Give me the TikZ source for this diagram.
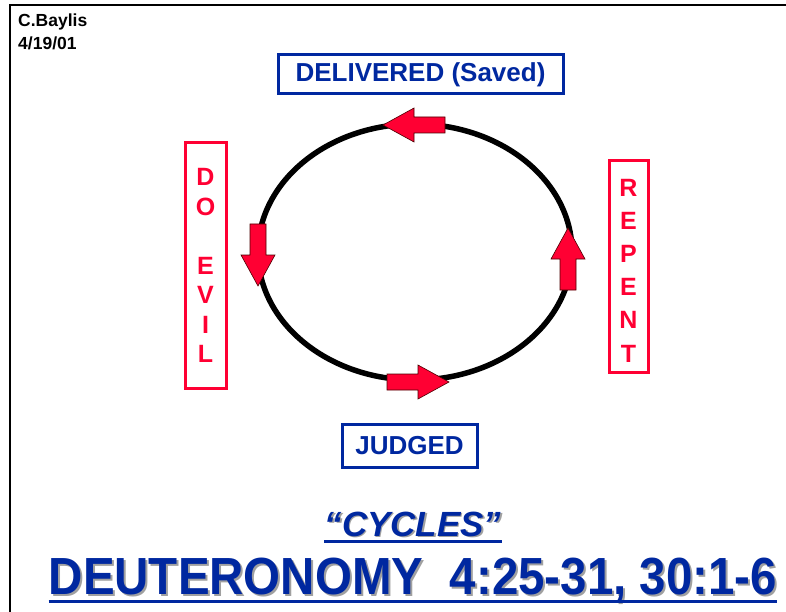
\documentclass[tikz,border=0pt]{standalone}
\usepackage{fontspec}
\usetikzlibrary{shapes.geometric}
\setmainfont{Liberation Sans}
\definecolor{tblue}{RGB}{0,40,160}
\definecolor{tred}{RGB}{255,0,51}
\definecolor{tshadow}{RGB}{160,160,160}
\tikzset{
  bluebox/.style={draw=tblue, line width=3pt, text=tblue, inner sep=0pt, font=\bfseries\fontsize{26}{30}\selectfont},
  redbox/.style={draw=tred, line width=3pt, text=tred, inner sep=0pt, align=center},
  ring/.style={draw=black, line width=5.5pt},
  arrowshape/.style={fill=tred, draw=black!70!red, line width=0.6pt, line join=miter},
  frameline/.style={draw=black, line width=2.5pt},
  pics/redarrow/.style={code={
    \path[arrowshape] (0,8) -- (31,8) -- (31,17) -- (62,0) -- (31,-17) -- (31,-8) -- (0,-8) -- cycle;
  }}
}
\begin{document}
\begin{tikzpicture}[x=1pt,y=-1pt]
\useasboundingbox (0,0) rectangle (786,612);
\fill[white] (0,0) rectangle (786,612);
% frame
\coordinate (fl) at (10,612);
\coordinate (ftl) at (10,5);
\coordinate (ftr) at (786,5);
\draw[frameline] (fl) -- (ftl) -- (ftr);
% author
\node[anchor=north west, align=left, font=\bfseries\fontsize{17.5}{23}\selectfont, inner sep=0pt] (author) at (18,14) {C.Baylis\\4/19/01};
% cycle
\node[ring, ellipse, minimum width=314pt, minimum height=256pt, inner sep=0pt] (cycle) at (415,252) {};
% arrows on the cycle
\pic[rotate=180] at (445,125) {redarrow};
\pic[rotate=-90] at (258,224) {redarrow};
\pic[rotate=90] at (568,290) {redarrow};
\pic at (387,382) {redarrow};
% labels
\node[bluebox, minimum width=285pt, minimum height=39pt] (delivered) at (420.5,74.5) {DELIVERED (Saved)};
\node[bluebox, minimum width=135pt, minimum height=43pt] (judged) at (409.5,445.5) {JUDGED};
\node[redbox, minimum width=41pt, minimum height=245pt, font=\bfseries\fontsize{25}{29.5}\selectfont] (doevil) at (205.5,265.5) {D\\O\\[29.5pt]E\\V\\I\\L};
\node[redbox, minimum width=39pt, minimum height=211pt,
  label={[text=tred, align=center, inner sep=0pt, yshift=-4pt, font=\bfseries\fontsize{25}{33.2}\selectfont]center:R\\E\\P\\E\\N\\T}] (repent) at (628.5,266.5) {};
% titles
\node[anchor=base, inner sep=0pt, text=tshadow, font=\bfseries\itshape\fontsize{35}{40}\selectfont] at (414.5,537.5) {“CYCLES”};
\node[anchor=base, inner sep=0pt, text=tblue, font=\bfseries\itshape\fontsize{35}{40}\selectfont] (cycles) at (413,536) {“CYCLES”};
\draw[tblue, line width=3pt] (cycles.base west |- 0,541.5) -- (cycles.base east |- 0,541.5);
\node[anchor=base, inner sep=0pt, text=tshadow, font=\bfseries\fontsize{47.5}{52}\selectfont] at (415,596) {\scalebox{1}[1.1]{DEUTERONOMY\ \ 4:25-31, 30:1-6}};
\node[anchor=base, inner sep=0pt, text=tblue, font=\bfseries\fontsize{47.5}{52}\selectfont] (deut) at (413,594) {\scalebox{1}[1.1]{DEUTERONOMY\ \ 4:25-31, 30:1-6}};
\draw[tblue, line width=3.5pt] (deut.base west |- 0,601.5) -- (deut.base east |- 0,601.5);
\end{tikzpicture}
\end{document}
